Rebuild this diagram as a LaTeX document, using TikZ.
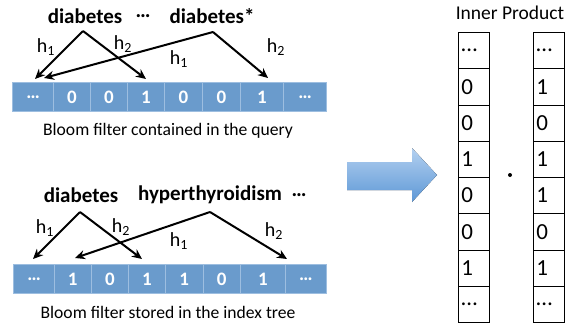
\documentclass[tikz,border=0pt]{standalone}
\usepackage{fontspec}
\setmainfont{Carlito}
\usetikzlibrary{arrows.meta,shapes.arrows}
\definecolor{cellblue}{HTML}{6A9BCC}
\definecolor{cellline}{HTML}{9DBEE0}
\definecolor{arrowtop}{HTML}{B3D0F0}
\definecolor{arrowbot}{HTML}{5E98D6}
\tikzset{
  word/.style={font=\fontsize{21}{21}\selectfont\bfseries, inner sep=0pt},
  hlabel/.style={font=\fontsize{20}{20}\selectfont, inner sep=0pt},
  caption/.style={font=\fontsize{17.6}{17.6}\selectfont, inner sep=0pt},
  hash/.style={line width=2pt, -{Stealth[length=10pt,width=9pt]}},
  bit/.style={draw=cellline, line width=0.8pt, fill=cellblue, text=white,
    font=\fontsize{19}{19}\selectfont\bfseries, inner sep=0pt, anchor=north west},
  vcell/.style={draw, line width=0.9pt, minimum width=31pt, minimum height=36.25pt,
    inner sep=0pt, anchor=north west, font=\fontsize{23}{23}\selectfont,
    text width=25pt, align=left},
}
\newcommand{\hsub}[1]{h\textsubscript{#1}}
\newcommand{\bitrow}[3]{%
  % #1 name prefix, #2 top y, #3 list of left/right/label
  \foreach \xa/\xb/\lab [count=\i] in {#3} {
    \node[bit, minimum width={\xb-\xa}, minimum height=29pt] (#1\i) at (\xa,#2) {\lab};
  }%
}
\begin{document}
\begin{tikzpicture}[x=1pt,y=-1pt]
\useasboundingbox (0,0) rectangle (580,330);

% ---- query Bloom filter ----
\bitrow{q}{82}{12/53.3/\dots, 53.3/90/0, 90/127.3/0, 127.3/164/1, 164/202/0, 202/240/0, 240/283.3/1, 283.3/326/\dots}
\node[word] (qd) at (85,16) {diabetes};
\node[word] (qe) at (143,16) {\dots};
\node[word] (qs) at (212,16) {diabetes*};
\coordinate (qda) at (83,31);
\coordinate (qsa) at (213,32);
\draw[hash] (qda) -- (35,79);
\draw[hash] (qda) -- (146,79);
\draw[hash] (qsa) -- (44,78);
\draw[hash] (qsa) -- (268,78);
\node[hlabel] (qh1) at (46,47) {\hsub{1}};
\node[hlabel] (qh2) at (123,44) {\hsub{2}};
\node[hlabel] (qh3) at (179,59) {\hsub{1}};
\node[hlabel] (qh4) at (276,47) {\hsub{2}};
\node[caption] (qc) at (168,131) {Bloom filter contained in the query};

% ---- index-tree Bloom filter ----
\bitrow{t}{264}{13.3/54/\dots, 54/90.7/1, 90.7/128.3/0, 128.3/165/1, 165/202.7/1, 202.7/240/0, 240/285/1, 285/326/\dots}
\node[word] (td) at (81,195) {diabetes};
\node[word] (th) at (210,195) {hyperthyroidism};
\node[word] (te) at (299,195) {\dots};
\coordinate (tda) at (80,212);
\coordinate (tha) at (210,212);
\draw[hash] (tda) -- (33,259);
\draw[hash] (tda) -- (142,259);
\draw[hash] (tha) -- (75,258);
\draw[hash] (tha) -- (287,259);
\node[hlabel] (th1) at (45,228) {\hsub{1}};
\node[hlabel] (th2) at (121,227) {\hsub{2}};
\node[hlabel] (th3) at (179,241) {\hsub{1}};
\node[hlabel] (th4) at (274,231) {\hsub{2}};
\node[caption] (tc) at (168,312) {Bloom filter stored in the index tree};

% ---- transition arrow ----
\fill[top color=arrowtop, bottom color=arrowbot]
  (347,162) -- (412,162) -- (412,148) -- (437,175) -- (412,202) -- (412,190) -- (347,190) -- cycle;

% ---- inner product vectors ----
\node[font=\fontsize{19.5}{19.5}\selectfont, inner sep=0pt] (ip) at (510,13) {Inner Product};
\foreach \v [count=\i] in {\dots,0,0,1,0,0,1,\dots}
  \node[vcell] (a\i) at (458,{32+(\i-1)*36.25}) {\v};
\foreach \v [count=\i] in {\dots,1,0,1,1,0,1,\dots}
  \node[vcell] (b\i) at (533,{32+(\i-1)*36.25}) {\v};
\fill (510,175) circle (2pt);
\end{tikzpicture}
\end{document}
